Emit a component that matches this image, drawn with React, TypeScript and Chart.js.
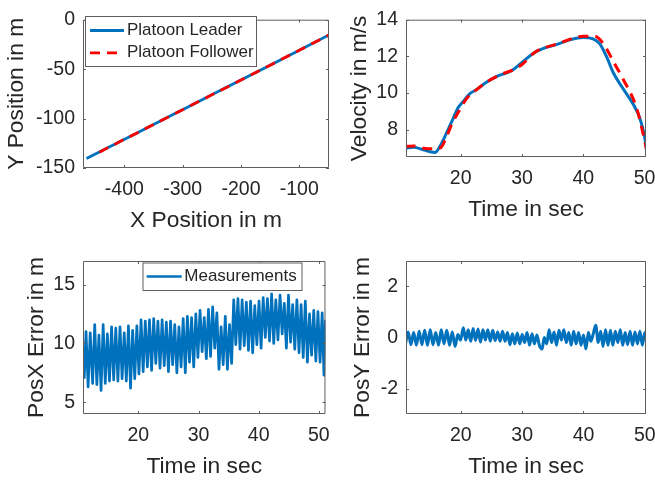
import React, { useEffect, useRef } from 'react';
import { Chart, registerables } from 'chart.js';

Chart.register(...registerables);

const FONT_FAMILY = "'Liberation Sans', Arial, Helvetica, sans-serif";
const TEXT_COLOR = '#262626';
const AXIS_COLOR = '#5e5e5e';
const BLUE = '#0072BD';
const RED = '#FF0000';

// ---------- Top-left: positions ----------
const leaderPosX = [-465, -420, -375, -330, -285, -240, -195, -150, -105, -49];
const leaderPosY = [-140.5, -127, -113.5, -100, -86.5, -73, -59.5, -46, -32.5, -15.5];
const followerPosX = [-443, -400, -350, -300, -250, -200, -150, -100, -49];
const followerPosY = [-134, -121, -106, -91, -76, -61, -46, -31, -15.5];
const posXTicks = [-400, -300, -200, -100];
const posYTicks = [-150, -100, -50, 0];

// ---------- Top-right: velocity ----------
const leaderVelTime = [11.0, 12.3, 13.9, 15.0, 15.8, 16.6, 17.4, 18.5, 19.6, 20.4, 21.5, 22.6, 24.2, 25.9, 27.5, 28.6, 30.2, 31.8, 33.4, 35.7, 37.8, 40.0, 41.6, 42.7, 43.8, 44.9, 46.5, 48.2, 49.2, 50.0, 50.6];
const leaderVel = [6.98, 7.03, 6.9, 6.79, 6.75, 7.07, 7.6, 8.4, 9.2, 9.53, 9.96, 10.19, 10.58, 10.9, 11.1, 11.28, 11.72, 12.16, 12.42, 12.65, 12.9, 13.03, 12.95, 12.68, 11.98, 11.1, 10.23, 9.35, 8.65, 7.6, 6.3];
const followerVelTime = [11.0, 12.5, 14.0, 15.5, 16.7, 17.5, 18.5, 19.7, 21.0, 22.5, 24.5, 26.5, 28.5, 30.0, 32.0, 34.0, 36.0, 38.0, 40.0, 41.8, 43.3, 44.9, 46.5, 48.7, 50.0, 50.6];
const followerVel = [7.08, 7.1, 6.98, 6.95, 7.0, 7.45, 8.25, 9.0, 9.7, 10.15, 10.65, 11.0, 11.25, 11.55, 12.2, 12.5, 12.7, 12.95, 13.1, 13.1, 12.68, 11.72, 10.75, 9.17, 7.4, 6.4];
const timeTicks = [20, 30, 40, 50];
const velTicks = [8, 10, 12, 14];

// ---------- Bottom-left: PosX error ----------
const posxErrTime = [11.0, 11.3, 11.65, 12.0, 12.4, 12.75, 13.1, 13.45, 13.8, 14.15, 14.5, 14.85, 15.2, 15.55, 15.9, 16.25, 16.6, 16.95, 17.3, 17.65, 18.0, 18.35, 18.7, 19.05, 19.4, 19.75, 20.1, 20.45, 20.8, 21.15, 21.5, 21.85, 22.2, 22.55, 22.9, 23.25, 23.6, 23.95, 24.3, 24.65, 25.0, 25.35, 25.7, 26.05, 26.4, 26.75, 27.1, 27.45, 27.8, 28.15, 28.5, 28.85, 29.2, 29.55, 29.9, 30.25, 30.6, 30.95, 31.3, 31.65, 32.0, 32.35, 32.7, 33.05, 33.4, 33.75, 34.1, 34.45, 34.8, 35.15, 35.5, 35.85, 36.2, 36.55, 36.9, 37.25, 37.6, 37.95, 38.3, 38.65, 39.0, 39.35, 39.7, 40.05, 40.4, 40.75, 41.1, 41.45, 41.8, 42.15, 42.5, 42.85, 43.2, 43.55, 43.9, 44.25, 44.6, 44.95, 45.3, 45.65, 46.0, 46.35, 46.7, 47.05, 47.4, 47.75, 48.1, 48.45, 48.8, 49.15, 49.5, 49.85, 50.2, 50.55, 50.85, 51.1];
const posxErr = [7.0, 11.0, 6.3, 10.9, 6.6, 11.6, 6.5, 10.7, 6.0, 11.6, 6.6, 10.8, 6.8, 11.4, 6.9, 11.3, 6.8, 11.4, 7.0, 10.9, 6.8, 11.5, 6.2, 11.1, 7.0, 11.5, 7.4, 12.0, 7.6, 11.9, 8.0, 12.0, 7.7, 12.1, 8.3, 11.9, 7.9, 12.0, 8.1, 11.8, 7.6, 11.9, 8.2, 11.6, 7.5, 11.4, 8.0, 12.1, 7.5, 12.3, 8.4, 12.2, 8.0, 12.5, 8.8, 12.8, 9.3, 12.2, 8.7, 12.9, 8.9, 13.1, 9.6, 12.6, 7.8, 11.4, 8.2, 12.3, 7.8, 11.6, 8.3, 13.7, 9.9, 13.8, 9.5, 13.7, 9.8, 13.5, 9.4, 13.6, 9.2, 13.2, 9.9, 13.6, 9.6, 13.9, 10.5, 13.8, 10.2, 14.2, 10.0, 13.7, 10.3, 14.1, 10.8, 13.4, 9.6, 14.1, 10.1, 13.3, 9.5, 13.7, 9.2, 13.3, 8.8, 13.6, 8.4, 12.5, 9.0, 12.8, 8.5, 12.7, 8.4, 12.6, 7.3, 12.0];
const posxErrTicks = [5, 10, 15];

// ---------- Bottom-right: PosY error ----------
const posyErrTime = [11.0, 11.4, 11.85, 12.3, 12.75, 13.2, 13.65, 14.1, 14.55, 15.0, 15.45, 15.9, 16.35, 16.8, 17.25, 17.7, 18.15, 18.6, 19.05, 19.5, 19.95, 20.4, 20.8, 21.2, 21.6, 22.0, 22.4, 22.8, 23.2, 23.6, 24.0, 24.4, 24.8, 25.2, 25.6, 26.0, 26.4, 26.8, 27.2, 27.6, 28.0, 28.4, 28.8, 29.2, 29.6, 30.0, 30.4, 30.8, 31.2, 31.6, 32.0, 32.4, 32.8, 33.25, 33.6, 34.0, 34.4, 34.8, 35.2, 35.6, 36.0, 36.4, 36.8, 37.2, 37.6, 38.0, 38.4, 38.8, 39.2, 39.6, 40.0, 40.4, 40.8, 41.2, 41.6, 42.0, 42.4, 42.8, 43.2, 43.6, 44.0, 44.4, 44.8, 45.2, 45.6, 46.0, 46.4, 46.8, 47.2, 47.6, 48.0, 48.4, 48.8, 49.2, 49.6, 50.0, 50.4];
const posyErr = [-0.22, 0.22, -0.28, 0.2, -0.3, 0.25, -0.28, 0.28, -0.3, 0.3, -0.28, 0.2, -0.3, 0.3, -0.25, 0.28, -0.3, 0.22, -0.35, 0.12, -0.1, 0.38, -0.1, 0.3, -0.15, 0.35, -0.12, 0.33, -0.18, 0.3, -0.1, 0.3, -0.15, 0.28, -0.12, 0.22, -0.15, 0.25, -0.15, 0.2, -0.28, 0.15, -0.25, 0.18, -0.25, 0.12, -0.2, 0.2, -0.3, 0.15, -0.25, 0.1, -0.3, -0.45, 0.0, -0.25, 0.3, -0.2, 0.22, -0.3, 0.28, -0.1, 0.3, -0.2, 0.2, -0.3, 0.25, -0.25, 0.2, -0.3, 0.1, -0.45, 0.2, -0.15, 0.15, 0.48, -0.2, 0.25, -0.35, 0.3, -0.3, 0.28, -0.3, 0.25, -0.2, 0.3, -0.3, 0.2, -0.28, 0.25, -0.3, 0.22, -0.25, 0.25, -0.3, 0.2, -0.25];
const posyErrTicks = [-2, 0, 2];

const zip = (xs: number[], ys: number[]) => xs.map((x, i) => ({ x, y: ys[i] }));

const boxPlugin = {
  id: 'matlabBox',
  afterDatasetsDraw(chart: any) {
    const { ctx, chartArea } = chart;
    const { left, right, top, bottom } = chartArea;
    const xs = chart.scales.x;
    const ys = chart.scales.y;
    const tl = 3;
    ctx.save();
    ctx.strokeStyle = AXIS_COLOR;
    ctx.lineWidth = 1;
    ctx.setLineDash([]);
    ctx.beginPath();
    ctx.rect(left + 0.5, top + 0.5, right - left - 1, bottom - top - 1);
    for (const t of xs.ticks) {
      const p = Math.round(xs.getPixelForValue(t.value)) + 0.5;
      ctx.moveTo(p, bottom);
      ctx.lineTo(p, bottom - tl);
      ctx.moveTo(p, top);
      ctx.lineTo(p, top + tl);
    }
    for (const t of ys.ticks) {
      const p = Math.round(ys.getPixelForValue(t.value)) + 0.5;
      ctx.moveTo(left, p);
      ctx.lineTo(left + tl, p);
      ctx.moveTo(right, p);
      ctx.lineTo(right - tl, p);
    }
    ctx.stroke();
    ctx.restore();
  },
};

function makeLegendPlugin(cfg: any) {
  return {
    id: 'boxLegend',
    afterDraw(chart: any) {
      if (!cfg) return;
      const { ctx } = chart;
      ctx.save();
      ctx.fillStyle = '#ffffff';
      ctx.fillRect(cfg.x, cfg.y, cfg.w, cfg.h);
      ctx.strokeStyle = AXIS_COLOR;
      ctx.lineWidth = 1;
      ctx.setLineDash([]);
      ctx.strokeRect(cfg.x + 0.5, cfg.y + 0.5, cfg.w, cfg.h);
      for (const row of cfg.rows) {
        const ds = chart.data.datasets[row.index];
        ctx.beginPath();
        ctx.setLineDash(ds.borderDash || []);
        ctx.strokeStyle = ds.borderColor;
        ctx.lineWidth = ds.borderWidth;
        ctx.lineCap = 'butt';
        ctx.moveTo(cfg.lineX1, row.y);
        ctx.lineTo(cfg.lineX2, row.y);
        ctx.stroke();
        ctx.setLineDash([]);
        ctx.fillStyle = TEXT_COLOR;
        ctx.font = `17px ${FONT_FAMILY}`;
        ctx.textBaseline = 'middle';
        ctx.textAlign = 'left';
        ctx.fillText(ds.label, cfg.textX, row.y);
      }
      ctx.restore();
    },
  };
}

function buildConfig(spec: any) {
  const yAxisW = spec.area.L - spec.left;
  const xAxisH = spec.top + spec.h - spec.area.B;
  const padTop = spec.area.T - spec.top;
  const padRight = spec.left + spec.w - spec.area.R;
  const tickFont = { family: FONT_FAMILY, size: 19.5, weight: 'normal' };
  const titleFont = { family: FONT_FAMILY, size: 22.8, weight: 'normal' };
  const plugins: any[] = [boxPlugin];
  if (spec.legend) plugins.push(makeLegendPlugin(spec.legend));
  return {
    type: 'line',
    data: { datasets: spec.datasets },
    options: {
      animation: false,
      responsive: false,
      maintainAspectRatio: false,
      devicePixelRatio: 1,
      layout: { padding: { left: 0, top: padTop, right: padRight, bottom: 0 } },
      plugins: { legend: { display: false }, tooltip: { enabled: false } },
      elements: { point: { radius: 0 } },
      scales: {
        x: {
          type: 'linear',
          position: 'bottom',
          min: spec.x.min,
          max: spec.x.max,
          grid: { display: false, drawTicks: false },
          border: { display: false },
          ticks: { font: tickFont, color: TEXT_COLOR, padding: 10, maxRotation: 0, autoSkip: false },
          title: { display: true, text: spec.x.title, font: titleFont, color: TEXT_COLOR, padding: { top: 0, bottom: spec.xTitlePad } },
          afterBuildTicks: (s: any) => { s.ticks = spec.x.ticks.map((v: number) => ({ value: v })); },
          afterFit: (s: any) => { s.height = xAxisH; },
        },
        y: {
          type: 'linear',
          position: 'left',
          min: spec.y.min,
          max: spec.y.max,
          grid: { display: false, drawTicks: false },
          border: { display: false },
          ticks: { font: tickFont, color: TEXT_COLOR, padding: 8, autoSkip: false },
          title: { display: true, text: spec.y.title, font: titleFont, color: TEXT_COLOR, padding: { top: spec.yTitlePad, bottom: 0 } },
          afterBuildTicks: (s: any) => { s.ticks = spec.y.ticks.map((v: number) => ({ value: v })); },
          afterFit: (s: any) => { s.width = yAxisW; },
        },
      },
    },
    plugins,
  };
}

const lineDefaults = { pointRadius: 0, fill: false, borderJoinStyle: 'round', borderCapStyle: 'butt', clip: 0 };

const specs: any[] = [
  {
    key: 'pos', left: 0, top: 0, w: 340, h: 236,
    area: { L: 83, T: 15, R: 329, B: 168 },
    x: { min: -471, max: -49, ticks: posXTicks, title: 'X Position in m' },
    y: { min: -150, max: 0, ticks: posYTicks, title: 'Y Position in m' },
    yTitlePad: 3.2, xTitlePad: 1.7,
    datasets: [
      { ...lineDefaults, label: 'Platoon Leader', data: zip(leaderPosX, leaderPosY), borderColor: BLUE, borderWidth: 2.8, tension: 0, order: 1 },
      { ...lineDefaults, label: 'Platoon Follower', data: zip(followerPosX, followerPosY), borderColor: RED, borderWidth: 2.8, borderDash: [10, 7], tension: 0, order: 0 },
    ],
    legend: { x: 85, y: 16, w: 171, h: 50, lineX1: 90, lineX2: 124, textX: 127, rows: [{ index: 0, y: 30.5 }, { index: 1, y: 52.8 }] },
  },
  {
    key: 'vel', left: 340, top: 0, w: 360, h: 236,
    area: { L: 406, T: 15, R: 646, B: 157 },
    x: { min: 11.08, max: 50.23, ticks: timeTicks, title: 'Time in sec' },
    y: { min: 6.5, max: 14, ticks: velTicks, title: 'Velocity in m/s' },
    yTitlePad: 6.2, xTitlePad: 13,
    datasets: [
      { ...lineDefaults, label: 'Platoon Leader', data: zip(leaderVelTime, leaderVel), borderColor: BLUE, borderWidth: 3, cubicInterpolationMode: 'monotone', order: 1 },
      { ...lineDefaults, label: 'Platoon Follower', data: zip(followerVelTime, followerVel), borderColor: RED, borderWidth: 3, borderDash: [10, 7], cubicInterpolationMode: 'monotone', order: 0 },
    ],
  },
  {
    key: 'errx', left: 0, top: 240, w: 340, h: 241,
    area: { L: 83, T: 261, R: 329, B: 414 },
    x: { min: 10.8, max: 51.1, ticks: timeTicks, title: 'Time in sec' },
    y: { min: 4, max: 17, ticks: posxErrTicks, title: 'PosX Error in m' },
    yTitlePad: 22.9, xTitlePad: 0.7,
    datasets: [
      { ...lineDefaults, label: 'Measurements', data: zip(posxErrTime, posxErr), borderColor: BLUE, borderWidth: 2.7, tension: 0 },
    ],
    legend: { x: 142.5, y: 22.5, w: 159, h: 27.5, lineX1: 146.7, lineX2: 181.7, textX: 184.3, rows: [{ index: 0, y: 36.5 }] },
  },
  {
    key: 'erry', left: 340, top: 240, w: 360, h: 241,
    area: { L: 406, T: 261, R: 646, B: 414 },
    x: { min: 11.05, max: 50.2, ticks: timeTicks, title: 'Time in sec' },
    y: { min: -3, max: 3, ticks: posyErrTicks, title: 'PosY Error in m' },
    yTitlePad: 9.2, xTitlePad: 0.7,
    datasets: [
      { ...lineDefaults, label: 'PosY', data: zip(posyErrTime, posyErr), borderColor: BLUE, borderWidth: 3, cubicInterpolationMode: 'monotone' },
    ],
  },
];

function SubPlot({ spec }: { spec: any }) {
  const ref = useRef<HTMLCanvasElement>(null);
  useEffect(() => {
    if (!ref.current) return;
    const chart = new Chart(ref.current, buildConfig(spec) as any);
    return () => chart.destroy();
  }, [spec]);
  return (
    <canvas
      ref={ref}
      width={spec.w}
      height={spec.h}
      style={{ position: 'absolute', left: spec.left, top: spec.top, width: spec.w, height: spec.h, display: 'block' }}
    />
  );
}

export default function App() {
  return (
    <div style={{ position: 'absolute', left: 0, top: 0, width: 655, height: 481, overflow: 'hidden', background: '#ffffff' }}>
      {specs.map((s) => (
        <SubPlot key={s.key} spec={s} />
      ))}
    </div>
  );
}
